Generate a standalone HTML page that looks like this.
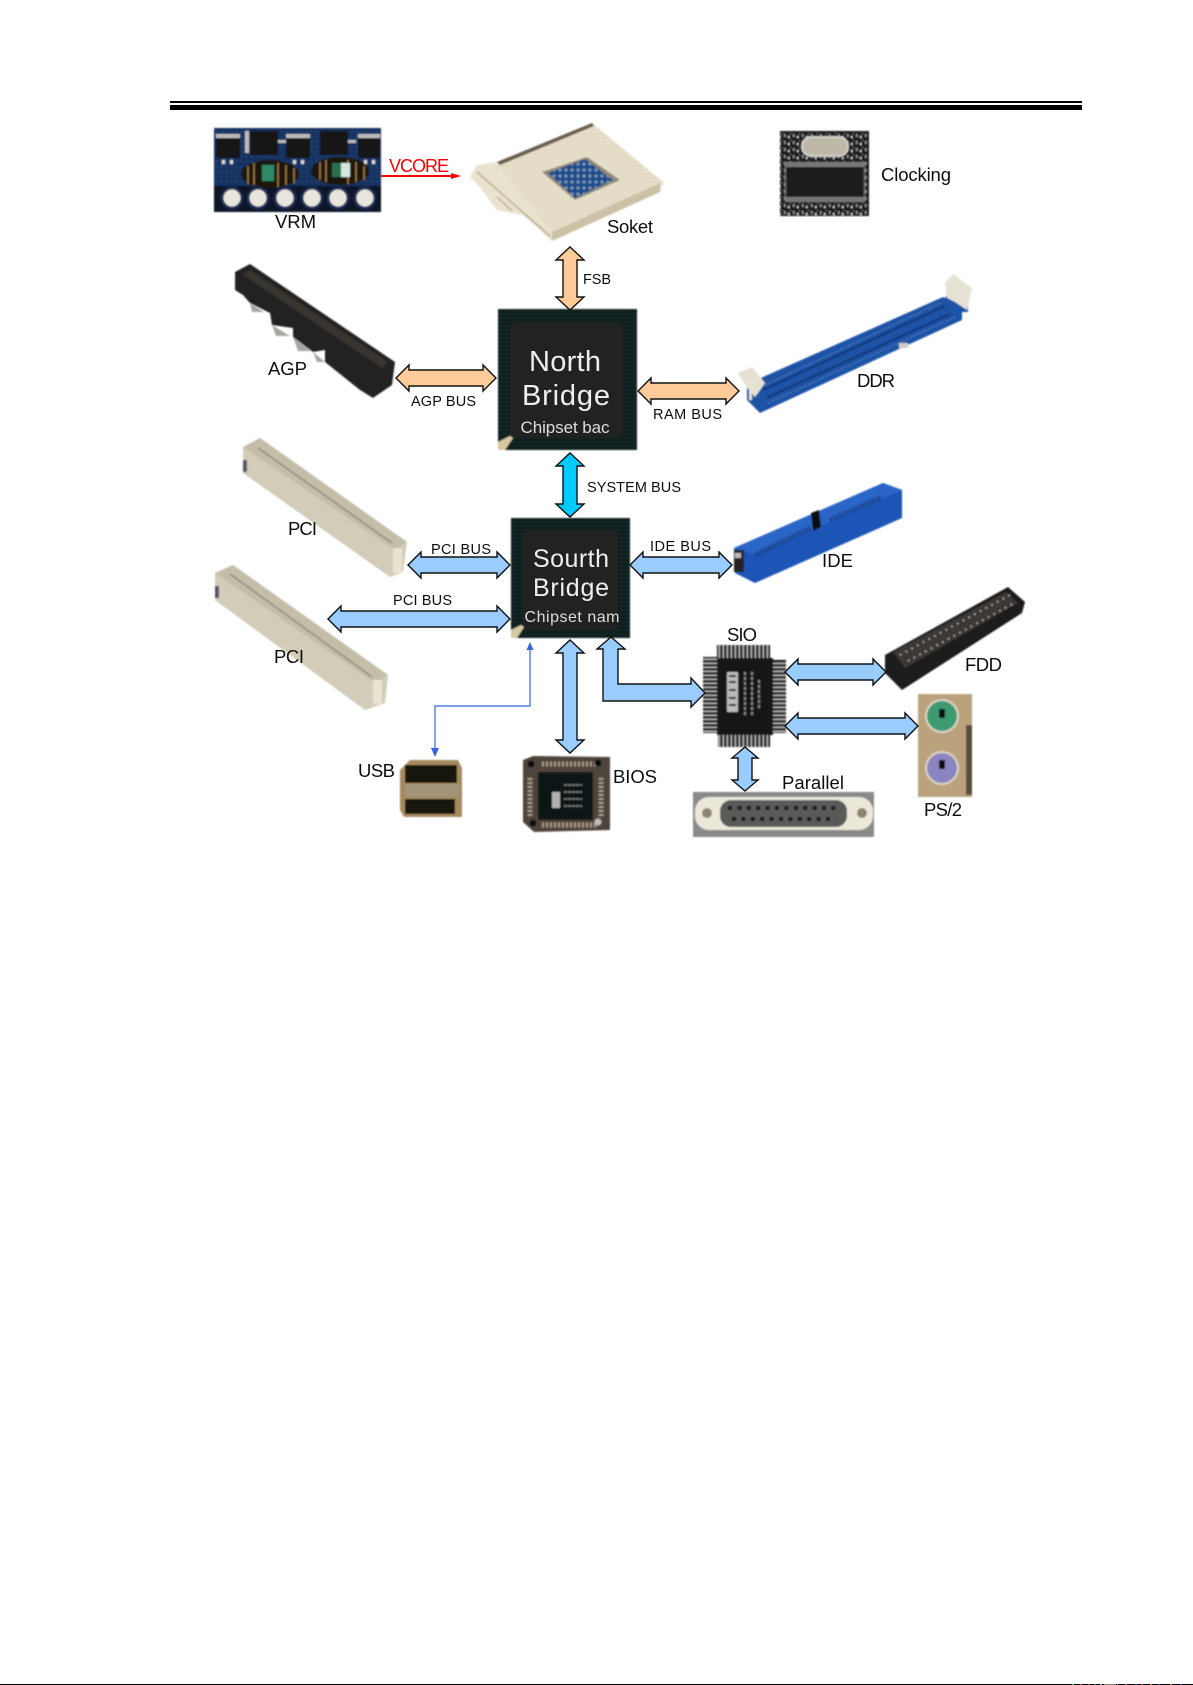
<!DOCTYPE html>
<html><head><meta charset="utf-8"><style>
html,body{margin:0;padding:0;background:#fff;width:1193px;height:1685px;overflow:hidden}
svg{display:block}
text{font-family:"Liberation Sans",sans-serif;fill:#111}
.s{font-size:14.5px}.m{font-size:18.5px}
.a{stroke:#111;stroke-width:1.4}
.o{fill:#FFCC99}.b{fill:#99CCFF}
</style></head><body>
<svg width="1193" height="1685" viewBox="0 0 1193 1685" xmlns="http://www.w3.org/2000/svg">
<defs>
<filter id="bl" x="-5%" y="-5%" width="110%" height="110%"><feGaussianBlur stdDeviation="0.7"/></filter>
<filter id="bt" x="-5%" y="-20%" width="110%" height="140%"><feGaussianBlur stdDeviation="0.3"/></filter>
<pattern id="dots" width="4" height="4" patternUnits="userSpaceOnUse"><rect width="4" height="4" fill="#0d1c1a"/><circle cx="2" cy="2" r="1" fill="#1f3330"/></pattern>
<pattern id="pv" width="4" height="10" patternUnits="userSpaceOnUse"><rect width="4" height="10" fill="#bbb"/><rect width="2.6" height="10" fill="#111"/></pattern>
<pattern id="ph" width="10" height="4" patternUnits="userSpaceOnUse"><rect width="10" height="4" fill="#bbb"/><rect width="10" height="2.6" fill="#111"/></pattern>
<pattern id="ckt" width="9" height="7" patternUnits="userSpaceOnUse"><rect width="9" height="7" fill="#1b1b1b"/><rect x="1" y="1" width="1.5" height="3" fill="#999"/><rect x="5" y="3" width="1.5" height="2" fill="#ddd"/><rect x="7" y="0" width="1" height="1" fill="#888"/></pattern>
<pattern id="pcb" width="5" height="5" patternUnits="userSpaceOnUse"><rect width="5" height="5" fill="#123261"/><rect x="1" y="1" width="1.2" height="1.2" fill="#2f5a88"/></pattern>
<pattern id="sk" width="4" height="4" patternUnits="userSpaceOnUse"><rect width="4" height="4" fill="#e6dfca"/><circle cx="2" cy="2" r="0.8" fill="#cfc6a8"/></pattern>
<pattern id="bs" width="6" height="6" patternUnits="userSpaceOnUse"><rect width="6" height="6" fill="#234f90"/><circle cx="2" cy="2" r="1.4" fill="#8fa6b5"/><circle cx="5" cy="5" r="0.8" fill="#0e3468"/></pattern>
</defs>
<rect width="1193" height="1685" fill="#fff"/>

<!-- header rule -->
<rect x="170" y="101" width="912" height="2" fill="#000"/>
<rect x="170" y="105" width="912" height="5" fill="#000"/>
<!-- bottom rule -->
<rect x="0" y="1684" width="1193" height="1" fill="#000"/>
<g>
<rect x="1072" y="1684" width="2" height="1" fill="#3c3"/><rect x="1080" y="1684" width="2" height="1" fill="#c33"/><rect x="1088" y="1684" width="2" height="1" fill="#933"/><rect x="1094" y="1684" width="2" height="1" fill="#363"/><rect x="1100" y="1684" width="2" height="1" fill="#88f"/><rect x="1104" y="1684" width="12" height="1" fill="#876"/><rect x="1117" y="1684" width="1" height="1" fill="#3c3"/><rect x="1125" y="1684" width="2" height="1" fill="#c33"/><rect x="1135" y="1684" width="2" height="1" fill="#33c"/><rect x="1141" y="1684" width="2" height="1" fill="#c33"/><rect x="1150" y="1684" width="2" height="1" fill="#c63"/><rect x="1158" y="1684" width="2" height="1" fill="#33c"/><rect x="1170" y="1684" width="2" height="1" fill="#c63"/><rect x="1180" y="1684" width="2" height="1" fill="#33c"/>
</g>

<g filter="url(#bl)">
<!-- VRM -->
<rect x="214" y="128" width="167" height="84" fill="url(#pcb)"/>
<rect x="214" y="186" width="167" height="26" fill="#0a1428"/>
<g fill="#151515"><rect x="216" y="138" width="24" height="20"/><rect x="250" y="131" width="28" height="24"/><rect x="286" y="138" width="24" height="20"/><rect x="320" y="131" width="28" height="24"/><rect x="358" y="138" width="22" height="20"/></g>
<g fill="#bbb"><rect x="216" y="134" width="24" height="4"/><rect x="286" y="134" width="24" height="4"/><rect x="358" y="134" width="22" height="4"/><rect x="245" y="131" width="4" height="22"/><rect x="278" y="140" width="8" height="3"/><rect x="348" y="140" width="8" height="3"/></g>
<g fill="#ddd"><rect x="222" y="160" width="3" height="4"/><rect x="230" y="160" width="3" height="4"/><rect x="293" y="160" width="3" height="4"/><rect x="301" y="160" width="3" height="4"/><rect x="364" y="160" width="3" height="4"/><rect x="372" y="160" width="3" height="4"/></g>
<ellipse cx="270" cy="174" rx="29" ry="14" fill="#1a120a"/><ellipse cx="340" cy="171" rx="29" ry="14" fill="#1a120a"/>
<g fill="none" stroke="#a07a45" stroke-width="1.6"><path d="M248 166v18M254 163v22M278 163v24M286 165v20M294 168v15M320 162v18M326 160v22M348 160v24M356 162v20M364 166v14"/></g>
<rect x="262" y="165" width="12" height="16" fill="#2f8a68"/><rect x="332" y="163" width="9" height="14" fill="#2b6f50"/><rect x="341" y="163" width="9" height="14" fill="#d5e8e0"/>
<g fill="#e8e6dc" stroke="#1a2a55" stroke-width="3"><circle cx="232" cy="198" r="10"/><circle cx="258" cy="198" r="10"/><circle cx="285" cy="198" r="10"/><circle cx="312" cy="198" r="10"/><circle cx="338" cy="198" r="10"/><circle cx="365" cy="198" r="10"/></g>

<!-- Socket -->
<polygon points="470,177 477,165 497,162 592,123 663,182 660,192 552,241 523,215 497,210 480,187" fill="url(#sk)"/>
<polygon points="497,162 592,123 594,126 500,165" fill="#6a5f50"/>
<polygon points="470,177 477,165 497,163 552,232 552,241 523,215 497,210 480,187" fill="#e9e2cf"/>
<path d="M477 172L550 236M497 197L512 211" stroke="#b9ad8f" stroke-width="1.5" fill="none"/>
<polygon points="552,232 660,183 660,192 552,241" fill="#cbc2a6"/>
<polygon points="542,172 587,157 620,180 575,200" fill="#8e8a78"/>
<polygon points="548,173 585,159 613,180 575,198" fill="url(#bs)"/>

<!-- AGP -->
<polygon points="235,272 250,264 395,362 392,385 373,398 360,390 325,362 325,350 313,352 293,337 293,328 272,325 270,313 250,303 243,295 235,290" fill="#242220"/>
<polygon points="242,274 250,270 388,362 382,368" fill="#38342f"/>
<g fill="#a6a6a0"><polygon points="250,303 264,312 252,312"/><polygon points="272,325 290,336 276,336"/><polygon points="293,337 311,351 298,351"/><polygon points="313,352 325,362 317,362"/></g>

<!-- DDR -->
<polygon points="747,385 763,377 943,297 962,310 962,320 760,413 747,400" fill="#1f52a6"/>
<g stroke="#0f3677" stroke-width="2" fill="none"><path d="M763 390L945 306M766 398L950 314"/></g>
<g stroke="#5d8ac8" stroke-width="1" stroke-dasharray="2 2" fill="none"><path d="M765 385L940 303M768 403L955 317"/></g>
<polygon points="738,373 752,367 765,383 755,397 745,385" fill="#e5e2d4"/>
<rect x="749" y="388" width="3" height="12" fill="#e5e2d4"/>
<polygon points="943,300 950,292 960,300 968,293 968,312 957,312" fill="#1f52a6"/>
<polygon points="945,283 953,274 972,288 967,310 955,302 947,298" fill="#e5e2d4"/>
<rect x="899" y="343" width="9" height="5" fill="#ccc"/>

<!-- Clocking -->
<rect x="780" y="131" width="89" height="85" fill="url(#ckt)"/>
<rect x="802" y="137" width="46" height="19" rx="9" fill="#bdb9a6" stroke="#ddd" stroke-width="1.5"/>
<rect x="785" y="162" width="80" height="40" fill="#777"/>
<rect x="786" y="167" width="78" height="30" fill="#1c1c1c"/>

<!-- North Bridge -->
<rect x="498" y="309" width="139" height="141" fill="url(#dots)"/>
<rect x="510" y="323" width="113" height="114" rx="6" fill="#232323"/>
<path d="M498 450l0-8 12-6 3 2-8 12z" fill="#d8c8a0"/>
<!-- South Bridge -->
<rect x="511" y="518" width="119" height="120" fill="url(#dots)"/>
<rect x="523" y="530" width="95" height="100" rx="5" fill="#232323"/>
<path d="M511 638l0-8 10-5 3 2-7 11z" fill="#d8c8a0"/>

<!-- PCI 1 -->
<polygon points="243,447 260,438 407,542 403,572 390,577 243,473" fill="#d2ccb8"/>
<polygon points="243,447 260,438 407,542 395,550" fill="#c4bea9"/>
<path d="M258 448L392 543" stroke="#8f8a78" stroke-width="1.5" fill="none"/>
<rect x="393" y="548" width="9" height="25" fill="#e8e3d3"/>
<rect x="243" y="460" width="4" height="12" fill="#556"/>
<!-- PCI 2 -->
<polygon points="215,573 233,565 388,675 385,703 365,710 215,600" fill="#d2ccb8"/>
<polygon points="215,573 233,565 388,675 375,683" fill="#c4bea9"/>
<path d="M230 574L372 677" stroke="#8f8a78" stroke-width="1.5" fill="none"/>
<rect x="373" y="680" width="9" height="24" fill="#e8e3d3"/>
<rect x="215" y="586" width="4" height="12" fill="#556"/>

<!-- IDE -->
<polygon points="734,548 883,483 902,490 902,518 755,583 735,573" fill="#1f55b5"/>
<polygon points="734,548 883,483 902,490 755,555" fill="#2a66c8"/>
<rect x="734" y="550" width="10" height="22" fill="#222"/>
<rect x="735" y="553" width="6" height="5" fill="#bbb"/>
<path d="M755 555L810 528M830 520L882 497" stroke="#123a80" stroke-width="5" stroke-dasharray="2 1.5" fill="none"/>
<polygon points="811,513 819,510 821,527 813,531" fill="#111"/>

<!-- FDD -->
<polygon points="885,655 1008,587 1025,602 1022,613 902,690 885,673" fill="#1e1d1c"/>
<polygon points="893,652 1006,592 1018,603 905,668" fill="#3a3835"/>
<path d="M900 655L1010 595M908 661L1016 602" stroke="#b8b29a" stroke-width="1.8" stroke-dasharray="1.5 5" fill="none"/>

<!-- SIO -->
<rect x="703" y="657" width="14" height="76" fill="url(#ph)"/>
<rect x="773" y="660" width="13" height="73" fill="url(#ph)"/>
<rect x="717" y="645" width="53" height="13" fill="url(#pv)"/>
<rect x="718" y="735" width="52" height="12" fill="url(#pv)"/>
<rect x="717" y="658" width="56" height="77" fill="#161616"/>
<g fill="#bbb"><rect x="727" y="672" width="11" height="40" rx="1"/></g>
<path d="M729 676h7M729 682h7M729 690h7M729 698h7M729 705h7" stroke="#161616" stroke-width="2"/>
<path d="M745 672v44M752 672v44M759 680v30" stroke="#888" stroke-width="2" stroke-dasharray="3 2"/>

<!-- USB -->
<polygon points="400,770 410,760 458,760 462,768 462,817 404,817 400,810" fill="#a58a5f"/>
<rect x="405" y="765" width="52" height="18" fill="#17120e"/>
<rect x="405" y="799" width="50" height="15" fill="#17120e"/>
<rect x="405" y="784" width="54" height="13" fill="#a39379"/>

<!-- BIOS -->
<polygon points="523,760 533,756 610,757 610,830 534,832 523,822" fill="#4e443a"/>
<rect x="538" y="772" width="55" height="48" fill="#0f1218"/>
<rect x="552" y="792" width="8" height="16" fill="#b0b0b0"/>
<path d="M564 785h18M564 792h18M564 799h18M564 806h18" stroke="#888" stroke-width="1.5" stroke-dasharray="3 1"/>
<path d="M542 764h56M542 825h56" stroke="#a89a88" stroke-width="5" stroke-dasharray="2 2"/>
<path d="M530 778v40M601 778v40" stroke="#a89a88" stroke-width="5" stroke-dasharray="2 2"/>
<circle cx="531" cy="764" r="3.5" fill="#111"/><circle cx="598" cy="763" r="3.5" fill="#111"/><circle cx="533" cy="823" r="3.5" fill="#111"/><circle cx="598" cy="822" r="3.5" fill="#bbb"/>

<!-- Parallel -->
<rect x="693" y="792" width="181" height="45" fill="#8a8a8a"/>
<rect x="695" y="797" width="178" height="33" rx="14" fill="#ebe8da"/>
<rect x="720" y="800" width="127" height="27" rx="11" fill="#5a5a58"/>
<circle cx="707" cy="813" r="5" fill="#8a8470"/><circle cx="862" cy="813" r="5" fill="#8a8470"/>
<path d="M728 808H840" stroke="#141414" stroke-width="4" stroke-dasharray="4 5.4" fill="none"/>
<path d="M732 819H836" stroke="#141414" stroke-width="4" stroke-dasharray="4 5.4" fill="none"/>

<!-- PS/2 -->
<rect x="918" y="694" width="54" height="103" fill="#b9a27c"/>
<rect x="966" y="725" width="6" height="70" fill="#5a4d3c"/>
<circle cx="942" cy="716" r="17" fill="#ddd6c4"/><circle cx="942" cy="716" r="15" fill="#3c9a72"/>
<rect x="939" y="709" width="6" height="9" fill="#111"/>
<circle cx="942" cy="768" r="17" fill="#ddd6c4"/><circle cx="942" cy="768" r="15" fill="#8a85c0"/>
<rect x="939" y="760" width="6" height="9" fill="#111"/>
</g>

<!-- Chip text -->
<g filter="url(#bt)">
<text x="565" y="371" text-anchor="middle" font-size="29" style="fill:#eee" textLength="72">North</text>
<text x="566" y="405" text-anchor="middle" font-size="29" style="fill:#eee" textLength="88">Bridge</text>
<text x="565" y="433" text-anchor="middle" font-size="17" style="fill:#ddd" textLength="89">Chipset bac</text>
<text x="571" y="567" text-anchor="middle" font-size="25" style="fill:#eee" textLength="76">Sourth</text>
<text x="571" y="596" text-anchor="middle" font-size="25" style="fill:#eee" textLength="76">Bridge</text>
<text x="572" y="622" text-anchor="middle" font-size="16" style="fill:#ddd" textLength="95">Chipset nam</text>
</g>

<!-- VCORE -->
<g fill="#f00" stroke="none">
<rect x="381" y="175" width="76" height="2"/>
<polygon points="451,173 461,176 451,179"/>
</g>

<!-- USB connector -->
<g fill="none" stroke="#3366dd" stroke-width="1.2"><path d="M530 648V706H435V750"/></g>
<polygon points="530,642 526.5,650 533.5,650" fill="#3366dd"/>
<polygon points="431,748 439,748 435,757" fill="#3366dd"/>

<!-- arrows -->
<polygon class="a o" points="570,247 584,260 577,260 577,297 584,297 570,310 556,297 563,297 563,260 556,260"/>
<polygon class="a o" points="396,378 409,365 409,370 483,370 483,365 496,378 483,391 483,386 409,386 409,391"/>
<polygon class="a o" points="638,391 651,378 651,383 726,383 726,378 739,391 726,404 726,399 651,399 651,404"/>
<polygon class="a" fill="#00CCFF" points="570,453 584,466 577,466 577,504 584,504 570,517 556,504 563,504 563,466 556,466"/>
<polygon class="a b" points="408,565 421,552 421,557 497,557 497,552 510,565 497,578 497,573 421,573 421,578"/>
<polygon class="a b" points="328,619 341,606 341,611 497,611 497,606 510,619 497,632 497,627 341,627 341,632"/>
<polygon class="a b" points="630,565 643,552 643,557 719,557 719,552 732,565 719,578 719,573 643,573 643,578"/>
<polygon class="a b" points="570,640 584,653 577,653 577,740 584,740 570,753 556,740 563,740 563,653 556,653"/>
<polygon class="a b" points="611,637 625,649 618,649 618,684 691,684 691,678 705,693 691,707 691,701 603,701 603,649 597,649"/>
<polygon class="a b" points="785,672 798,659 798,664 873,664 873,659 886,672 873,685 873,680 798,680 798,685"/>
<polygon class="a b" points="785,726 798,713 798,718 905,718 905,713 918,726 905,739 905,734 798,734 798,739"/>
<polygon class="a b" points="745,747 758,758 752,758 752,780 758,780 745,791 732,780 738,780 738,758 732,758"/>

<!-- labels -->
<g filter="url(#bt)">
<text x="389" y="172" font-size="18" style="fill:#f00" textLength="60">VCORE</text>
<text x="275" y="228" class="m" textLength="41">VRM</text>
<text x="607" y="233" class="m" textLength="46">Soket</text>
<text x="881" y="181" class="m" textLength="70">Clocking</text>
<text x="583" y="284" class="s" textLength="28">FSB</text>
<text x="268" y="375" class="m" textLength="39">AGP</text>
<text x="411" y="406" class="s" textLength="65">AGP BUS</text>
<text x="653" y="419" class="s" textLength="69">RAM BUS</text>
<text x="857" y="387" class="m" textLength="38">DDR</text>
<text x="587" y="492" class="s" textLength="94">SYSTEM BUS</text>
<text x="288" y="535" class="m" textLength="29">PCI</text>
<text x="431" y="554" class="s" textLength="60">PCI BUS</text>
<text x="393" y="605" class="s" textLength="59">PCI BUS</text>
<text x="274" y="663" class="m" textLength="30">PCI</text>
<text x="650" y="551" class="s" textLength="61">IDE BUS</text>
<text x="822" y="567" class="m" textLength="31">IDE</text>
<text x="727" y="641" class="m" textLength="30">SIO</text>
<text x="965" y="671" class="m" textLength="37">FDD</text>
<text x="358" y="777" class="m" textLength="37">USB</text>
<text x="613" y="783" class="m" textLength="44">BIOS</text>
<text x="782" y="789" class="m" textLength="62">Parallel</text>
<text x="924" y="816" class="m" textLength="38">PS/2</text>
</g>
</svg>
</body></html>
